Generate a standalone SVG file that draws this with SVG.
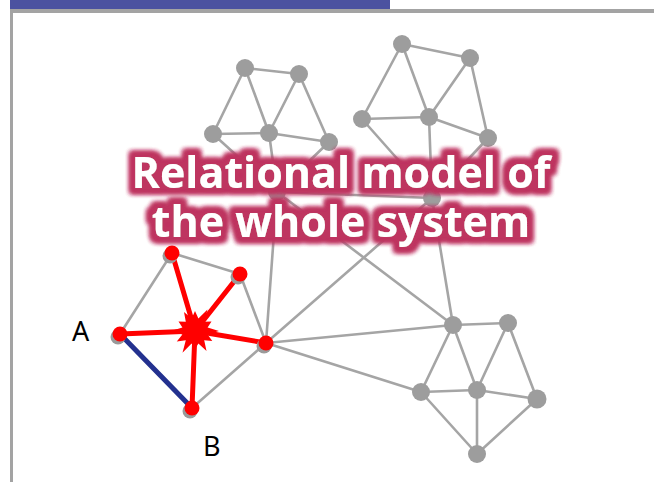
<svg xmlns="http://www.w3.org/2000/svg" width="654" height="482" viewBox="0 0 654 482">
<defs>
<style>
.e{stroke:#a5a5a5;stroke-width:2.6;fill:none;stroke-linecap:round}
.r{stroke:#ff0000;stroke-width:5;fill:none;stroke-linecap:round}
.n{fill:#9d9d9d}
.rn{fill:#ff0000}
.sh{fill:#9a9a9a}
.lbl{font-family:"Noto Sans","Open Sans","DejaVu Sans",sans-serif;font-size:27px;fill:#000}
.title{font-family:"Open Sans","Noto Sans","DejaVu Sans",sans-serif;font-weight:bold;font-size:43px;fill:#fff;text-anchor:middle}
</style>
<filter id="glow" x="-10%" y="-40%" width="120%" height="180%">
<feMorphology in="SourceAlpha" operator="dilate" radius="4.5" result="d"/>
<feGaussianBlur in="d" stdDeviation="2.6" result="b"/>
<feFlood flood-color="#be3560"/>
<feComposite in2="b" operator="in" result="g"/>
<feMerge><feMergeNode in="g"/><feMergeNode in="g"/><feMergeNode in="g"/><feMergeNode in="SourceGraphic"/></feMerge>
</filter>
</defs>
<rect width="654" height="482" fill="#fff"/>
<g id="frame">
<rect x="10" y="0" width="380" height="9" fill="#4b52a0"/>
<rect x="10" y="9" width="644" height="4" fill="#a3a3a3"/>
<rect x="10" y="9" width="3" height="473" fill="#a3a3a3"/>
</g>
<g id="connectors">
<line class="e" x1="245" y1="68" x2="299" y2="74"/>
<line class="e" x1="245" y1="68" x2="213" y2="134"/>
<line class="e" x1="245" y1="68" x2="269" y2="133"/>
<line class="e" x1="299" y1="74" x2="269" y2="133"/>
<line class="e" x1="299" y1="74" x2="329" y2="142"/>
<line class="e" x1="213" y1="134" x2="269" y2="133"/>
<line class="e" x1="269" y1="133" x2="329" y2="142"/>
<line class="e" x1="213" y1="134" x2="277" y2="192"/>
<line class="e" x1="269" y1="133" x2="277" y2="192"/>
<line class="e" x1="329" y1="142" x2="277" y2="192"/>
<line class="e" x1="402" y1="44" x2="470" y2="58"/>
<line class="e" x1="402" y1="44" x2="362" y2="119"/>
<line class="e" x1="402" y1="44" x2="429" y2="117"/>
<line class="e" x1="470" y1="58" x2="429" y2="117"/>
<line class="e" x1="470" y1="58" x2="488" y2="138"/>
<line class="e" x1="362" y1="119" x2="429" y2="117"/>
<line class="e" x1="429" y1="117" x2="488" y2="138"/>
<line class="e" x1="362" y1="119" x2="432" y2="198"/>
<line class="e" x1="429" y1="117" x2="432" y2="198"/>
<line class="e" x1="488" y1="138" x2="432" y2="198"/>
<line class="e" x1="277" y1="192" x2="432" y2="198"/>
<line class="e" x1="277" y1="192" x2="266" y2="343"/>
<line class="e" x1="277" y1="192" x2="453" y2="325"/>
<line class="e" x1="432" y1="198" x2="266" y2="343"/>
<line class="e" x1="432" y1="198" x2="453" y2="325"/>
<line class="e" x1="266" y1="343" x2="453" y2="325"/>
<line class="e" x1="266" y1="343" x2="421" y2="392"/>
<line class="e" x1="453" y1="325" x2="508" y2="323"/>
<line class="e" x1="453" y1="325" x2="421" y2="392"/>
<line class="e" x1="453" y1="325" x2="477" y2="390"/>
<line class="e" x1="508" y1="323" x2="477" y2="390"/>
<line class="e" x1="508" y1="323" x2="537" y2="399"/>
<line class="e" x1="421" y1="392" x2="477" y2="390"/>
<line class="e" x1="477" y1="390" x2="537" y2="399"/>
<line class="e" x1="421" y1="392" x2="477" y2="454"/>
<line class="e" x1="477" y1="390" x2="477" y2="454"/>
<line class="e" x1="537" y1="399" x2="477" y2="454"/>
<line class="e" x1="120" y1="334" x2="172" y2="253"/>
<line class="e" x1="172" y1="253" x2="240" y2="274"/>
<line class="e" x1="240" y1="274" x2="266" y2="343"/>
<line class="e" x1="192" y1="408" x2="266" y2="343"/>
<line x1="120" y1="334" x2="192" y2="408" stroke="#23318f" stroke-width="5" stroke-linecap="round"/>
<line class="r" x1="120" y1="334" x2="195" y2="331"/>
<line class="r" x1="172" y1="253" x2="195" y2="331"/>
<line class="r" x1="240" y1="274" x2="195" y2="331"/>
<line class="r" x1="266" y1="343" x2="195" y2="331"/>
<line class="r" x1="192" y1="408" x2="195" y2="331"/>
</g>
<g id="nodes">
<circle id="n1" class="n" cx="245" cy="68" r="9"/>
<circle id="n2" class="n" cx="299" cy="74" r="9"/>
<circle id="n3" class="n" cx="213" cy="134" r="9"/>
<circle id="n4" class="n" cx="269" cy="133" r="9"/>
<circle id="n5" class="n" cx="329" cy="142" r="9"/>
<circle id="n6" class="n" cx="402" cy="44" r="9"/>
<circle id="n7" class="n" cx="470" cy="58" r="9"/>
<circle id="n8" class="n" cx="362" cy="119" r="9"/>
<circle id="n9" class="n" cx="429" cy="117" r="9"/>
<circle id="n10" class="n" cx="488" cy="138" r="9"/>
<circle id="n11" class="n" cx="277" cy="192" r="9"/>
<circle id="n12" class="n" cx="432" cy="198" r="9"/>
<circle id="n13" class="n" cx="453" cy="325" r="9"/>
<circle id="n14" class="n" cx="508" cy="323" r="9"/>
<circle id="n15" class="n" cx="477" cy="390" r="9"/>
<circle id="n16" class="n" cx="421" cy="392" r="9"/>
<circle id="n17" class="n" cx="537" cy="399" r="9.5"/>
<circle id="n18" class="n" cx="477" cy="454" r="9"/>
<g id="nodeA"><circle class="sh" cx="118" cy="337" r="7.5"/><circle class="rn" cx="120" cy="334" r="7.5"/></g>
<g id="nodeTop"><circle class="sh" cx="170" cy="256" r="7.5"/><circle class="rn" cx="172" cy="253" r="7.5"/></g>
<g id="nodeRT"><circle class="sh" cx="238" cy="277" r="7.5"/><circle class="rn" cx="240" cy="274" r="7.5"/></g>
<g id="nodeR"><circle class="sh" cx="264" cy="346" r="7.5"/><circle class="rn" cx="266" cy="343" r="7.5"/></g>
<g id="nodeB"><circle class="sh" cx="190" cy="411" r="7.5"/><circle class="rn" cx="192" cy="408" r="7.5"/></g>
<g id="burst"><polygon fill="#ff0000" points="219,331 207.6,334.4 212.3,341 204.2,340.2 206.5,350.9 198.4,343.6 195,349 191.6,343.6 182.5,352.7 185.8,340.2 176.8,341.5 182.4,334.4 171,331 182.4,327.6 178.5,321.5 185.8,321.8 184,312 191.6,318.4 195,311 198.4,318.4 207.5,309.4 204.2,321.8 211.5,321.5 207.6,327.6"/></g>
</g>
<g id="labels">
<text class="lbl" x="72" y="341">A</text>
<text class="lbl" x="203" y="456">B</text>
</g>
<g id="title" filter="url(#glow)">
<text class="title" x="341" y="188">Relational model of</text>
<text class="title" x="341" y="237">the whole system</text>
</g>
</svg>
